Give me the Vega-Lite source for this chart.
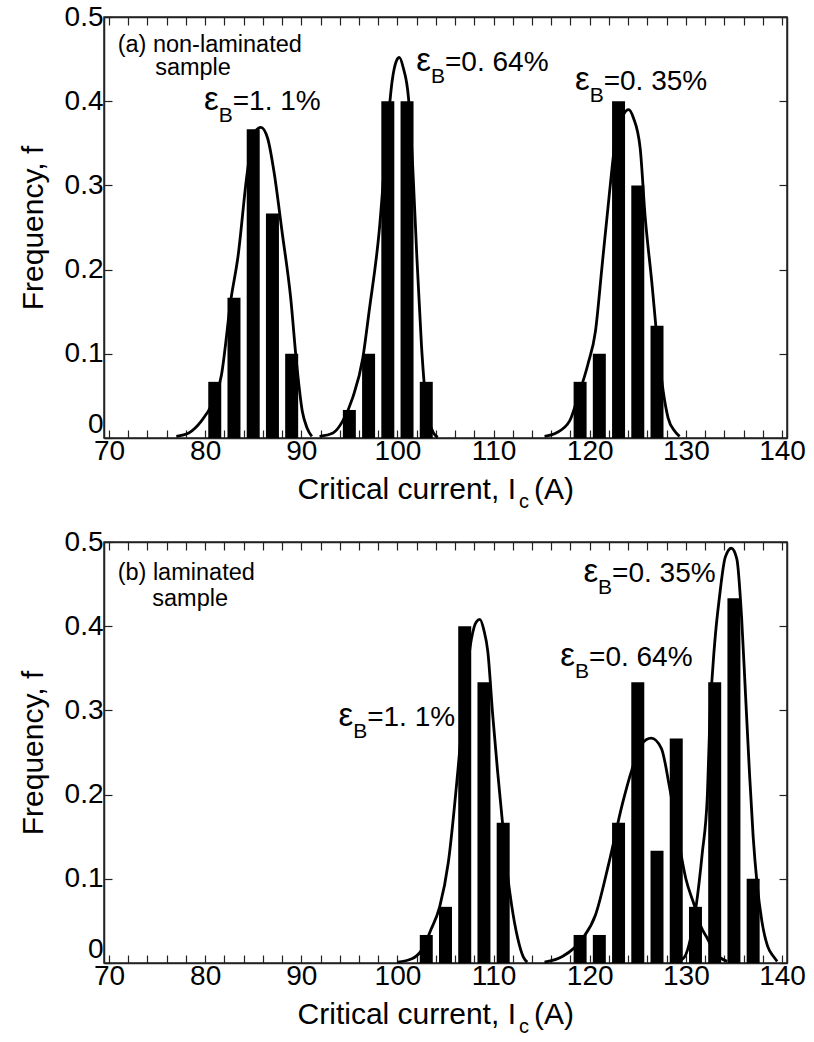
{
  "$schema": "https://vega.github.io/schema/vega-lite/v6.json",
  "background": "white",
  "padding": {"left": 17, "top": 2, "right": 5, "bottom": 4},
  "spacing": 14,
  "config": {
    "view": {"stroke": "#222222", "strokeWidth": 1.5},
    "axis": {
      "grid": false,
      "domainColor": "#222222",
      "domainWidth": 1.5,
      "tickColor": "#222222",
      "tickWidth": 1.2,
      "tickSize": -8,
      "labelFont": "Liberation Sans",
      "labelFontSize": 28,
      "labelColor": "black",
      "titleFont": "Liberation Sans",
      "titleFontSize": 30,
      "titleFontWeight": "normal",
      "titleColor": "black"
    },
    "text": {"font": "Liberation Sans", "color": "black"}
  },
  "datasets": {
    "barsA": [
      {"I": 81, "f": 0.0667}, {"I": 83, "f": 0.1667}, {"I": 85, "f": 0.3667}, {"I": 87, "f": 0.2667}, {"I": 89, "f": 0.1},
      {"I": 95, "f": 0.0333}, {"I": 97, "f": 0.1}, {"I": 99, "f": 0.4}, {"I": 101, "f": 0.4}, {"I": 103, "f": 0.0667},
      {"I": 119, "f": 0.0667}, {"I": 121, "f": 0.1}, {"I": 123, "f": 0.4}, {"I": 125, "f": 0.3}, {"I": 127, "f": 0.1333}
    ],
    "barsB": [
      {"I": 103, "f": 0.0333}, {"I": 105, "f": 0.0667}, {"I": 107, "f": 0.4}, {"I": 109, "f": 0.3333}, {"I": 111, "f": 0.1667},
      {"I": 119, "f": 0.0333}, {"I": 121, "f": 0.0333}, {"I": 123, "f": 0.1667}, {"I": 125, "f": 0.3333}, {"I": 127, "f": 0.1333},
      {"I": 129, "f": 0.2667}, {"I": 131, "f": 0.0667}, {"I": 133, "f": 0.3333}, {"I": 135, "f": 0.4333}, {"I": 137, "f": 0.1}
    ],
    "curvesA": [
      {"s": "1.1", "I": 77.0, "f": 0.002}, {"s": "1.1", "I": 78.3, "f": 0.006}, {"s": "1.1", "I": 79.6, "f": 0.02}, {"s": "1.1", "I": 80.7, "f": 0.04},
      {"s": "1.1", "I": 81.7, "f": 0.075}, {"s": "1.1", "I": 82.7, "f": 0.166}, {"s": "1.1", "I": 83.4, "f": 0.214}, {"s": "1.1", "I": 84.4, "f": 0.317},
      {"s": "1.1", "I": 85.1, "f": 0.362}, {"s": "1.1", "I": 85.8, "f": 0.369}, {"s": "1.1", "I": 86.5, "f": 0.356}, {"s": "1.1", "I": 87.15, "f": 0.317},
      {"s": "1.1", "I": 88.0, "f": 0.245}, {"s": "1.1", "I": 88.9, "f": 0.166}, {"s": "1.1", "I": 89.5, "f": 0.09}, {"s": "1.1", "I": 90.1, "f": 0.032},
      {"s": "1.1", "I": 90.6, "f": 0.012}, {"s": "1.1", "I": 91.1, "f": 0.002},
      {"s": "0.64", "I": 91.9, "f": 0.002}, {"s": "0.64", "I": 93.3, "f": 0.006}, {"s": "0.64", "I": 94.3, "f": 0.02}, {"s": "0.64", "I": 95.35, "f": 0.048},
      {"s": "0.64", "I": 96.4, "f": 0.095}, {"s": "0.64", "I": 97.05, "f": 0.15}, {"s": "0.64", "I": 98.1, "f": 0.245}, {"s": "0.64", "I": 98.8, "f": 0.344},
      {"s": "0.64", "I": 99.45, "f": 0.424}, {"s": "0.64", "I": 99.9, "f": 0.448}, {"s": "0.64", "I": 100.2, "f": 0.452}, {"s": "0.64", "I": 100.6, "f": 0.44},
      {"s": "0.64", "I": 101.15, "f": 0.404}, {"s": "0.64", "I": 101.6, "f": 0.32}, {"s": "0.64", "I": 102.0, "f": 0.22}, {"s": "0.64", "I": 102.5, "f": 0.11},
      {"s": "0.64", "I": 102.9, "f": 0.05}, {"s": "0.64", "I": 103.3, "f": 0.02}, {"s": "0.64", "I": 103.8, "f": 0.005}, {"s": "0.64", "I": 104.2, "f": 0.001},
      {"s": "0.35", "I": 115.3, "f": 0.002}, {"s": "0.35", "I": 116.5, "f": 0.006}, {"s": "0.35", "I": 117.9, "f": 0.02}, {"s": "0.35", "I": 118.75, "f": 0.048},
      {"s": "0.35", "I": 119.8, "f": 0.087}, {"s": "0.35", "I": 120.6, "f": 0.127}, {"s": "0.35", "I": 121.3, "f": 0.206}, {"s": "0.35", "I": 122.0, "f": 0.285},
      {"s": "0.35", "I": 122.7, "f": 0.356}, {"s": "0.35", "I": 123.5, "f": 0.384}, {"s": "0.35", "I": 124.05, "f": 0.39}, {"s": "0.35", "I": 124.55, "f": 0.38},
      {"s": "0.35", "I": 125.25, "f": 0.344}, {"s": "0.35", "I": 125.75, "f": 0.265}, {"s": "0.35", "I": 126.45, "f": 0.186}, {"s": "0.35", "I": 127.1, "f": 0.107},
      {"s": "0.35", "I": 127.65, "f": 0.055}, {"s": "0.35", "I": 128.15, "f": 0.024}, {"s": "0.35", "I": 128.85, "f": 0.008}, {"s": "0.35", "I": 129.35, "f": 0.002}
    ],
    "curvesB": [
      {"s": "1.1", "I": 100.0, "f": 0.001}, {"s": "1.1", "I": 101.5, "f": 0.005}, {"s": "1.1", "I": 102.5, "f": 0.015}, {"s": "1.1", "I": 103.5, "f": 0.04},
      {"s": "1.1", "I": 104.4, "f": 0.067}, {"s": "1.1", "I": 105.3, "f": 0.12}, {"s": "1.1", "I": 106.3, "f": 0.23}, {"s": "1.1", "I": 107.0, "f": 0.32},
      {"s": "1.1", "I": 107.7, "f": 0.385}, {"s": "1.1", "I": 108.2, "f": 0.405}, {"s": "1.1", "I": 108.57, "f": 0.408}, {"s": "1.1", "I": 109.0, "f": 0.395},
      {"s": "1.1", "I": 109.4, "f": 0.37}, {"s": "1.1", "I": 109.9, "f": 0.296}, {"s": "1.1", "I": 110.4, "f": 0.23}, {"s": "1.1", "I": 110.9, "f": 0.17},
      {"s": "1.1", "I": 111.4, "f": 0.11}, {"s": "1.1", "I": 111.9, "f": 0.067}, {"s": "1.1", "I": 112.5, "f": 0.03}, {"s": "1.1", "I": 113.1, "f": 0.007},
      {"s": "1.1", "I": 113.5, "f": 0.001},
      {"s": "0.64", "I": 115.3, "f": 0.001}, {"s": "0.64", "I": 117.2, "f": 0.008}, {"s": "0.64", "I": 119.25, "f": 0.029}, {"s": "0.64", "I": 120.6, "f": 0.057},
      {"s": "0.64", "I": 122.0, "f": 0.119}, {"s": "0.64", "I": 123.4, "f": 0.189}, {"s": "0.64", "I": 124.4, "f": 0.23}, {"s": "0.64", "I": 125.4, "f": 0.26},
      {"s": "0.64", "I": 126.4, "f": 0.267}, {"s": "0.64", "I": 127.45, "f": 0.255}, {"s": "0.64", "I": 128.3, "f": 0.209}, {"s": "0.64", "I": 129.2, "f": 0.148},
      {"s": "0.64", "I": 130.0, "f": 0.1}, {"s": "0.64", "I": 130.9, "f": 0.068}, {"s": "0.64", "I": 131.5, "f": 0.045}, {"s": "0.64", "I": 132.2, "f": 0.03},
      {"s": "0.64", "I": 132.9, "f": 0.015}, {"s": "0.64", "I": 133.6, "f": 0.006}, {"s": "0.64", "I": 134.3, "f": 0.002},
      {"s": "0.35", "I": 129.0, "f": 0.001}, {"s": "0.35", "I": 129.85, "f": 0.007}, {"s": "0.35", "I": 130.5, "f": 0.03}, {"s": "0.35", "I": 131.05, "f": 0.066},
      {"s": "0.35", "I": 131.7, "f": 0.13}, {"s": "0.35", "I": 132.24, "f": 0.2}, {"s": "0.35", "I": 132.5, "f": 0.29}, {"s": "0.35", "I": 133.0, "f": 0.38},
      {"s": "0.35", "I": 133.5, "f": 0.435}, {"s": "0.35", "I": 134.1, "f": 0.482}, {"s": "0.35", "I": 134.73, "f": 0.4926}, {"s": "0.35", "I": 135.3, "f": 0.48},
      {"s": "0.35", "I": 135.8, "f": 0.41}, {"s": "0.35", "I": 136.2, "f": 0.32}, {"s": "0.35", "I": 136.6, "f": 0.23}, {"s": "0.35", "I": 137.0, "f": 0.15},
      {"s": "0.35", "I": 137.4, "f": 0.095}, {"s": "0.35", "I": 137.9, "f": 0.05}, {"s": "0.35", "I": 138.5, "f": 0.02}, {"s": "0.35", "I": 139.1, "f": 0.008},
      {"s": "0.35", "I": 139.5, "f": 0.002}
    ],
    "epsA": [
      {"x": 82.87, "y": 0.389, "t": "=1. 1%"},
      {"x": 104.95, "y": 0.436, "t": "=0. 64%"},
      {"x": 121.45, "y": 0.413, "t": "=0. 35%"}
    ],
    "epsB": [
      {"x": 96.85, "y": 0.281, "t": "=1. 1%"},
      {"x": 119.93, "y": 0.353, "t": "=0. 64%"},
      {"x": 122.33, "y": 0.4525, "t": "=0. 35%"}
    ],
    "labA": [
      {"x": 70.9, "y": 0.459, "t": "(a) non-laminated"},
      {"x": 74.8, "y": 0.431, "t": "sample"}
    ],
    "labB": [
      {"x": 70.9, "y": 0.4545, "t": "(b) laminated"},
      {"x": 74.5, "y": 0.424, "t": "sample"}
    ],
    "xtitle": [
      {"x": 112.33, "y": -0.0724, "t": "Critical current, I"}
    ]
  },
  "vconcat": [
    {
      "width": 683,
      "height": 421,
      "resolve": {"axis": {"x": "independent", "y": "independent"}},
      "layer": [
        {
          "data": {"name": "barsA"},
          "mark": {"type": "bar", "size": 13, "color": "black"},
          "encoding": {
            "x": {"field": "I", "type": "quantitative", "scale": {"domain": [70, 140], "nice": false, "zero": false},
              "axis": {"orient": "bottom", "title": null, "labelPadding": 7,
                "values": [70,72,74,76,78,80,82,84,86,88,90,92,94,96,98,100,102,104,106,108,110,112,114,116,118,120,122,124,126,128,130,132,134,136,138,140],
                "labelExpr": "datum.value % 10 === 0 ? datum.label : ''"}},
            "y": {"field": "f", "type": "quantitative", "scale": {"domain": [0, 0.5], "nice": false},
              "axis": {"orient": "left", "title": "Frequency, f", "titlePadding": 16, "labelPadding": 9,
                "values": [0, 0.1, 0.2, 0.3, 0.4, 0.5], "format": ".1~f",
                "labelBaseline": {"condition": {"test": "datum.value === 0", "value": "bottom"}, "value": "middle"}}}
          }
        },
        {
          "data": {"name": "curvesA"},
          "mark": {"type": "line", "color": "black", "strokeWidth": 2.8, "interpolate": "monotone"},
          "encoding": {
            "x": {"field": "I", "type": "quantitative",
              "axis": {"orient": "top", "title": null, "labels": false,
                "values": [70,72,74,76,78,80,82,84,86,88,90,92,94,96,98,100,102,104,106,108,110,112,114,116,118,120,122,124,126,128,130,132,134,136,138,140]}},
            "y": {"field": "f", "type": "quantitative",
              "axis": {"orient": "right", "title": null, "labels": false, "values": [0, 0.1, 0.2, 0.3, 0.4, 0.5]}},
            "detail": {"field": "s"}
          }
        },
        {
          "data": {"name": "labA"},
          "mark": {"type": "text", "fontSize": 23.5, "align": "left", "baseline": "alphabetic"},
          "encoding": {
            "x": {"field": "x", "type": "quantitative", "axis": null},
            "y": {"field": "y", "type": "quantitative", "axis": null},
            "text": {"field": "t"}
          }
        },
        {
          "data": {"name": "epsA"},
          "mark": {"type": "text", "fontSize": 28, "align": "left", "baseline": "alphabetic"},
          "encoding": {
            "x": {"field": "x", "type": "quantitative", "axis": null},
            "y": {"field": "y", "type": "quantitative", "axis": null},
            "text": {"field": "t"}
          }
        },
        {
          "data": {"name": "epsA"},
          "mark": {"type": "text", "fontSize": 21, "align": "right", "baseline": "alphabetic", "dy": 12, "text": "B"},
          "encoding": {
            "x": {"field": "x", "type": "quantitative", "axis": null},
            "y": {"field": "y", "type": "quantitative", "axis": null}
          }
        },
        {
          "data": {"name": "epsA"},
          "mark": {"type": "text", "fontSize": 33, "align": "right", "baseline": "alphabetic", "dx": -14, "text": "ε"},
          "encoding": {
            "x": {"field": "x", "type": "quantitative", "axis": null},
            "y": {"field": "y", "type": "quantitative", "axis": null}
          }
        },
        {
          "data": {"name": "xtitle"},
          "mark": {"type": "text", "fontSize": 30, "align": "right", "baseline": "alphabetic"},
          "encoding": {
            "x": {"field": "x", "type": "quantitative", "axis": null},
            "y": {"field": "y", "type": "quantitative", "axis": null},
            "text": {"field": "t"}
          }
        },
        {
          "data": {"name": "xtitle"},
          "mark": {"type": "text", "fontSize": 20, "align": "left", "baseline": "alphabetic", "dx": 3, "dy": 9, "text": "c"},
          "encoding": {
            "x": {"field": "x", "type": "quantitative", "axis": null},
            "y": {"field": "y", "type": "quantitative", "axis": null}
          }
        },
        {
          "data": {"name": "xtitle"},
          "mark": {"type": "text", "fontSize": 30, "align": "left", "baseline": "alphabetic", "dx": 18, "text": "(A)"},
          "encoding": {
            "x": {"field": "x", "type": "quantitative", "axis": null},
            "y": {"field": "y", "type": "quantitative", "axis": null}
          }
        }
      ]
    },
    {
      "width": 683,
      "height": 421,
      "resolve": {"axis": {"x": "independent", "y": "independent"}},
      "layer": [
        {
          "data": {"name": "barsB"},
          "mark": {"type": "bar", "size": 13, "color": "black"},
          "encoding": {
            "x": {"field": "I", "type": "quantitative", "scale": {"domain": [70, 140], "nice": false, "zero": false},
              "axis": {"orient": "bottom", "title": null, "labelPadding": 7,
                "values": [70,72,74,76,78,80,82,84,86,88,90,92,94,96,98,100,102,104,106,108,110,112,114,116,118,120,122,124,126,128,130,132,134,136,138,140],
                "labelExpr": "datum.value % 10 === 0 ? datum.label : ''"}},
            "y": {"field": "f", "type": "quantitative", "scale": {"domain": [0, 0.5], "nice": false},
              "axis": {"orient": "left", "title": "Frequency, f", "titlePadding": 16, "labelPadding": 9,
                "values": [0, 0.1, 0.2, 0.3, 0.4, 0.5], "format": ".1~f",
                "labelBaseline": {"condition": {"test": "datum.value === 0", "value": "bottom"}, "value": "middle"}}}
          }
        },
        {
          "data": {"name": "curvesB"},
          "mark": {"type": "line", "color": "black", "strokeWidth": 2.8, "interpolate": "monotone"},
          "encoding": {
            "x": {"field": "I", "type": "quantitative",
              "axis": {"orient": "top", "title": null, "labels": false,
                "values": [70,72,74,76,78,80,82,84,86,88,90,92,94,96,98,100,102,104,106,108,110,112,114,116,118,120,122,124,126,128,130,132,134,136,138,140]}},
            "y": {"field": "f", "type": "quantitative",
              "axis": {"orient": "right", "title": null, "labels": false, "values": [0, 0.1, 0.2, 0.3, 0.4, 0.5]}},
            "detail": {"field": "s"}
          }
        },
        {
          "data": {"name": "labB"},
          "mark": {"type": "text", "fontSize": 23.5, "align": "left", "baseline": "alphabetic"},
          "encoding": {
            "x": {"field": "x", "type": "quantitative", "axis": null},
            "y": {"field": "y", "type": "quantitative", "axis": null},
            "text": {"field": "t"}
          }
        },
        {
          "data": {"name": "epsB"},
          "mark": {"type": "text", "fontSize": 28, "align": "left", "baseline": "alphabetic"},
          "encoding": {
            "x": {"field": "x", "type": "quantitative", "axis": null},
            "y": {"field": "y", "type": "quantitative", "axis": null},
            "text": {"field": "t"}
          }
        },
        {
          "data": {"name": "epsB"},
          "mark": {"type": "text", "fontSize": 21, "align": "right", "baseline": "alphabetic", "dy": 12, "text": "B"},
          "encoding": {
            "x": {"field": "x", "type": "quantitative", "axis": null},
            "y": {"field": "y", "type": "quantitative", "axis": null}
          }
        },
        {
          "data": {"name": "epsB"},
          "mark": {"type": "text", "fontSize": 33, "align": "right", "baseline": "alphabetic", "dx": -14, "text": "ε"},
          "encoding": {
            "x": {"field": "x", "type": "quantitative", "axis": null},
            "y": {"field": "y", "type": "quantitative", "axis": null}
          }
        },
        {
          "data": {"name": "xtitle"},
          "mark": {"type": "text", "fontSize": 30, "align": "right", "baseline": "alphabetic"},
          "encoding": {
            "x": {"field": "x", "type": "quantitative", "axis": null},
            "y": {"field": "y", "type": "quantitative", "axis": null},
            "text": {"field": "t"}
          }
        },
        {
          "data": {"name": "xtitle"},
          "mark": {"type": "text", "fontSize": 20, "align": "left", "baseline": "alphabetic", "dx": 3, "dy": 9, "text": "c"},
          "encoding": {
            "x": {"field": "x", "type": "quantitative", "axis": null},
            "y": {"field": "y", "type": "quantitative", "axis": null}
          }
        },
        {
          "data": {"name": "xtitle"},
          "mark": {"type": "text", "fontSize": 30, "align": "left", "baseline": "alphabetic", "dx": 18, "text": "(A)"},
          "encoding": {
            "x": {"field": "x", "type": "quantitative", "axis": null},
            "y": {"field": "y", "type": "quantitative", "axis": null}
          }
        }
      ]
    }
  ]
}
